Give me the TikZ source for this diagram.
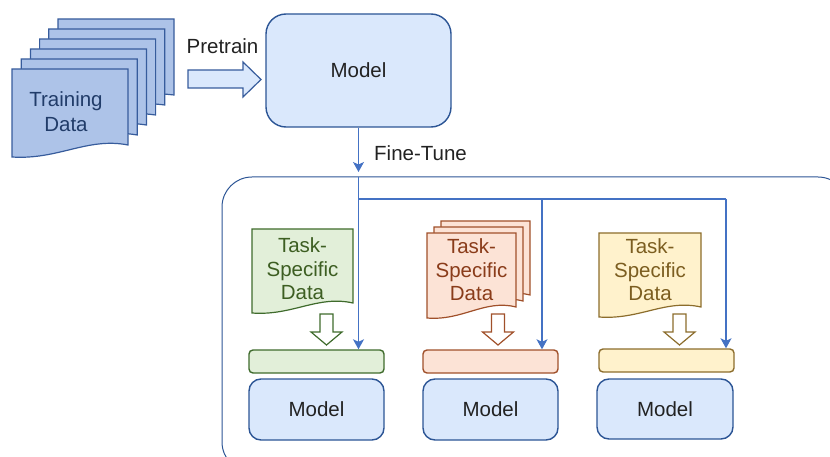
\documentclass[tikz,border=0pt]{standalone}
\usepackage{fontspec}
\setmainfont{Liberation Sans}
\usetikzlibrary{arrows.meta}
\definecolor{blfill}{HTML}{DAE8FC}
\definecolor{blstroke}{HTML}{2C5595}
\definecolor{trfill}{HTML}{ADC3E8}
\definecolor{trstroke}{HTML}{375C9C}
\definecolor{trtext}{HTML}{213C69}
\definecolor{connblue}{HTML}{4472C4}
\definecolor{gfill}{HTML}{E2EFD9}
\definecolor{gstroke}{HTML}{3F6B2C}
\definecolor{gtext}{HTML}{3D5E22}
\definecolor{ofill}{HTML}{FCE3D6}
\definecolor{ostroke}{HTML}{A0502A}
\definecolor{otext}{HTML}{8A3C1A}
\definecolor{yfill}{HTML}{FFF2CC}
\definecolor{ystroke}{HTML}{8C6D2C}
\definecolor{ytext}{HTML}{7C5E20}
\definecolor{txtdark}{HTML}{222222}
\newcommand\mydocshape[6]{%
  \draw[#6] (#1,#2) -- (#3,#2) -- (#3,#4)
    .. controls ({#3-0.35*(#3-#1)},{#4-8}) and ({#1+0.4*(#3-#1)},{#5+3}) .. (#1,#5) -- cycle;}
\newcommand\myhollowdown[2]{%
  \draw[#2] ({#1-6.5},314) -- ({#1+6.5},314) -- ({#1+6.5},332) -- ({#1+15.5},332)
    -- (#1,345) -- ({#1-15.5},332) -- ({#1-6.5},332) -- cycle;}
\tikzset{
  txt/.style={font=\fontsize{20.5}{23.5}\selectfont, align=center, inner sep=0pt},
  conn/.style={draw=connblue, line width=1.2pt, -{Stealth[length=10pt,width=11pt,inset=2.5pt]}},
  connline/.style={draw=connblue, line width=1.2pt},
  modelbox/.style={draw=blstroke, fill=blfill, line width=1.4pt, rounded corners=12pt,
    minimum width=135pt, minimum height=61pt, inner sep=0pt, txt, text=txtdark},
  barbox/.style={line width=1.4pt, rounded corners=4pt, minimum width=135pt, minimum height=23pt, inner sep=0pt},
}
\begin{document}
\begin{tikzpicture}[x=1pt,y=-1pt]
\useasboundingbox (0,0) rectangle (830,457);
% container
\begin{scope}
\clip (0,0) rectangle (830,457);
\draw[draw=blstroke, line width=1pt, rounded corners=30pt] (222,177) rectangle (848,472);
\end{scope}
% training data stack
\foreach \k in {5,4,3,2,1,0}{
  \mydocshape{12+9.2*\k}{69-10*\k}{128+9.2*\k}{145-10*\k}{157-10*\k}{draw=trstroke, fill=trfill, line width=1.2pt}
}
\node[txt, font=\fontsize{20.5}{25}\selectfont, text=trtext] (train) at (66,111.5) {Training\\Data};
% pretrain arrow
\draw[draw=trstroke, fill=blfill, line width=1.2pt] (188,70) -- (243,70) -- (243,62) -- (261,79.5) -- (243,97) -- (243,88) -- (188,88) -- cycle;
\node[txt, text=txtdark] (pre) at (222.5,46) {Pretrain};
% top model
\node[modelbox, rounded corners=20pt, minimum width=185pt, minimum height=113pt] (top) at (358.5,70.5) {Model};
\coordinate (ft) at (358.5,172);
\draw[conn] (top.south) -- (ft);
\node[txt, text=txtdark, anchor=west] (ftl) at (374,153) {Fine-Tune};
% bottom models and bars
\node[modelbox] (gm) at (316.5,409.5) {Model};
\node[modelbox] (om) at (490.5,409.5) {Model};
\node[modelbox, minimum width=136pt, minimum height=60pt] (ym) at (665,409) {Model};
\node[barbox, draw=gstroke, fill=gfill] (gbar) at (316.5,361.5) {};
\node[barbox, draw=ostroke, fill=ofill] (obar) at (490.5,361.5) {};
\node[barbox, draw=ystroke, fill=yfill] (ybar) at (666.5,360.5) {};
% task documents
\mydocshape{252}{229}{353}{303}{313}{draw=gstroke, fill=gfill, line width=1.2pt}
\node[txt, text=gtext] (gdoc) at (302.5,269) {Task-\\Specific\\Data};
\mydocshape{441}{221}{530}{295}{306}{draw=ostroke, fill=ofill, line width=1.2pt}
\mydocshape{434}{227}{523}{301}{312}{draw=ostroke, fill=ofill, line width=1.2pt}
\mydocshape{427}{233}{516}{307}{318}{draw=ostroke, fill=ofill, line width=1.2pt}
\node[txt, text=otext] (odoc) at (471.5,270) {Task-\\Specific\\Data};
\mydocshape{599}{233}{701}{307}{317}{draw=ystroke, fill=yfill, line width=1.2pt}
\node[txt, text=ytext] (ydoc) at (650,270) {Task-\\Specific\\Data};
% hollow arrows
\myhollowdown{326.5}{draw=gstroke, fill=white, line width=1.2pt}
\myhollowdown{498}{draw=ostroke, fill=white, line width=1.2pt}
\myhollowdown{679.5}{draw=ystroke, fill=white, line width=1.2pt}
% fine-tune branches
\coordinate (b0) at (358.5,177);
\coordinate (j) at (358.5,199);
\coordinate (oj) at (542,199);
\coordinate (yj) at (726,199);
\draw[conn] (b0) -- (gbar.north -| b0);
\draw[connline] (j) -- (yj);
\draw[conn] (oj) -- (obar.north -| oj);
\draw[conn] (yj) -- (ybar.north -| yj);
\end{tikzpicture}
\end{document}
